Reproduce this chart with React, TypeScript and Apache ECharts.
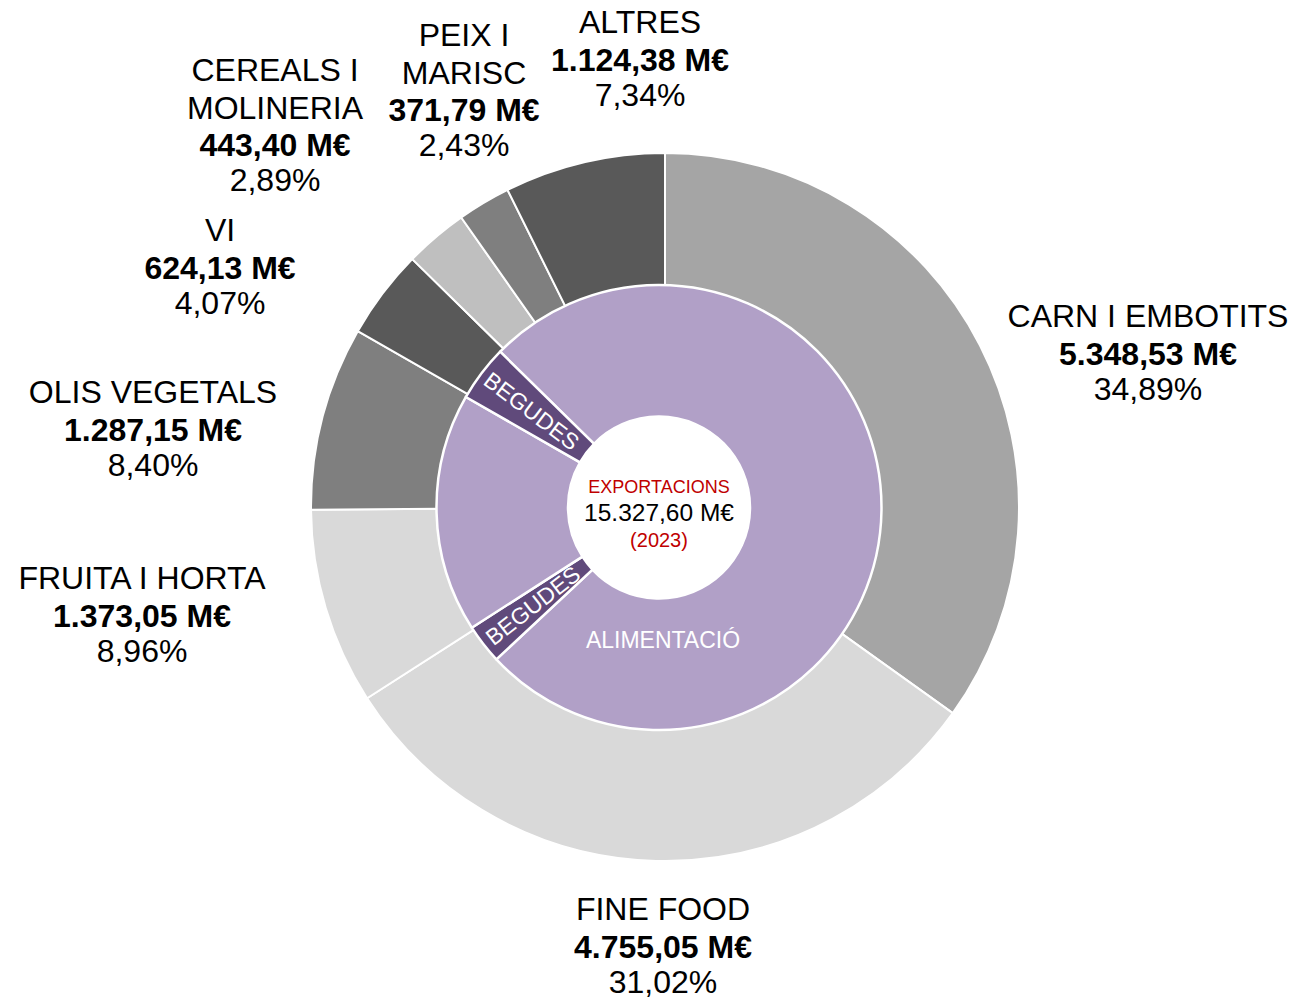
import React, { useEffect, useRef } from 'react';
import * as echarts from 'echarts';

// ---- data ----
const CATEGORIES = ['CARN I EMBOTITS', 'FINE FOOD', 'FRUITA I HORTA', 'OLIS VEGETALS', 'VI', 'CEREALS I MOLINERIA', 'PEIX I MARISC', 'ALTRES'];
const LABEL_LINES = [['CARN I EMBOTITS'], ['FINE FOOD'], ['FRUITA I HORTA'], ['OLIS VEGETALS'], ['VI'], ['CEREALS I', 'MOLINERIA'], ['PEIX I', 'MARISC'], ['ALTRES']];
const VALUES = [5348.53, 4755.05, 1373.05, 1287.15, 624.13, 443.40, 371.79, 1124.38];
const VALUE_LABELS = ['5.348,53 M€', '4.755,05 M€', '1.373,05 M€', '1.287,15 M€', '624,13 M€', '443,40 M€', '371,79 M€', '1.124,38 M€'];
const PERCENT_LABELS = ['34,89%', '31,02%', '8,96%', '8,40%', '4,07%', '2,89%', '2,43%', '7,34%'];

// inner ring, clockwise starting after VI
const INNER_NAMES = ['ALIMENTACIÓ', 'BEGUDES', 'ALIMENTACIÓ', 'BEGUDES'];
const INNER_VALUES = [11603.15, 440.0, 2660.2, 624.13];
const INNER_LABEL_SHOW = [true, true, false, true];

const CENTER_TITLE = 'EXPORTACIONS';
const CENTER_TOTAL = '15.327,60 M€';
const CENTER_YEAR = '(2023)';

// ---- styles / layout ----
const OUTER_COLORS = ['#a5a5a5', '#d9d9d9', '#d9d9d9', '#7f7f7f', '#595959', '#bfbfbf', '#7f7f7f', '#595959'];
const INNER_COLORS = ['#b1a0c7', '#604a7b', '#b1a0c7', '#604a7b'];
// centre of the first text line of each outer label
const LABEL_POS: [number, number][] = [
  [1148, 316], [663, 909], [142, 578], [153, 392], [220, 230], [275, 70], [464, 35], [640, 22],
];
const FONT = '"Liberation Sans", Arial, Helvetica, sans-serif';
const OUTER_CENTER = [665, 507];
const INNER_CENTER = [659, 507.5];
const LH = 37.5;

export default function App() {
  const ref = useRef<HTMLDivElement>(null);

  useEffect(() => {
    if (!ref.current) return;
    const chart = echarts.init(ref.current, undefined, { renderer: 'svg' });
    const total = VALUES.reduce((a, b) => a + b, 0);
    const beforeInner = VALUES.slice(0, 5).reduce((a, b) => a + b, 0);
    const innerStart = 90 - (360 * beforeInner) / total;

    const option: any = {
      animation: false,
      backgroundColor: '#ffffff',
      textStyle: { fontFamily: FONT },
      series: [
        {
          type: 'pie',
          name: 'outer',
          center: OUTER_CENTER,
          radius: [195, 354],
          startAngle: 90,
          clockwise: true,
          avoidLabelOverlap: false,
          itemStyle: { borderColor: '#ffffff', borderWidth: 2 },
          emphasis: { disabled: true },
          labelLine: { show: false },
          label: {
            show: true,
            position: 'outside',
            fontFamily: FONT,
            color: '#000000',
            lineHeight: LH,
            formatter: (p: any) => {
              const i = p.dataIndex;
              const lines = LABEL_LINES[i].map((l) => `{n|${l}}`);
              lines.push(`{v|${VALUE_LABELS[i]}}`);
              lines.push(`{p|${PERCENT_LABELS[i]}}`);
              return lines.join('\n');
            },
            rich: {
              n: { fontSize: 32, fontFamily: FONT, color: '#000', lineHeight: LH, align: 'center' },
              v: { fontSize: 32, fontFamily: FONT, color: '#000', fontWeight: 'bold', lineHeight: LH, align: 'center' },
              p: { fontSize: 32, fontFamily: FONT, color: '#000', lineHeight: 33, align: 'center' },
            },
          },
          labelLayout: (p: any) => {
            const pos = LABEL_POS[p.dataIndex];
            return { x: pos[0], y: pos[1] - LH / 2, align: 'center', verticalAlign: 'top' };
          },
          data: CATEGORIES.map((name, i) => ({
            name,
            value: VALUES[i],
            itemStyle: { color: OUTER_COLORS[i] },
          })),
        },
        {
          type: 'pie',
          name: 'inner',
          center: INNER_CENTER,
          radius: [91, 222.5],
          startAngle: innerStart,
          clockwise: true,
          avoidLabelOverlap: false,
          itemStyle: { borderColor: '#ffffff', borderWidth: 2.5 },
          emphasis: { disabled: true },
          labelLine: { show: false },
          label: {
            show: true,
            position: 'inside',
            rotate: 'radial',
            color: '#ffffff',
            fontFamily: FONT,
            fontSize: 23,
            formatter: '{b}',
          },
          labelLayout: (p: any) => {
            if (p.dataIndex === 0) {
              return { x: 663, y: 640, align: 'center', verticalAlign: 'middle' };
            }
            return {};
          },
          data: INNER_NAMES.map((name, i) => ({
            name,
            value: INNER_VALUES[i],
            itemStyle: { color: INNER_COLORS[i] },
            label:
              i === 0
                ? { show: true, rotate: 0, fontSize: 23 }
                : { show: INNER_LABEL_SHOW[i] },
          })),
        },
      ],
      graphic: [
        {
          type: 'text',
          x: 659,
          y: 487,
          z: 100,
          style: { text: CENTER_TITLE, fill: '#c00000', font: `18px ${FONT}`, align: 'center', verticalAlign: 'middle' },
        },
        {
          type: 'text',
          x: 659,
          y: 512,
          z: 100,
          style: { text: CENTER_TOTAL, fill: '#000000', font: `24.5px ${FONT}`, align: 'center', verticalAlign: 'middle' },
        },
        {
          type: 'text',
          x: 659,
          y: 540,
          z: 100,
          style: { text: CENTER_YEAR, fill: '#c00000', font: `20px ${FONT}`, align: 'center', verticalAlign: 'middle' },
        },
      ],
    };
    chart.setOption(option);
    return () => chart.dispose();
  }, []);

  return <div ref={ref} style={{ position: 'fixed', left: 0, top: 0, width: 1314, height: 999 }} />;
}
